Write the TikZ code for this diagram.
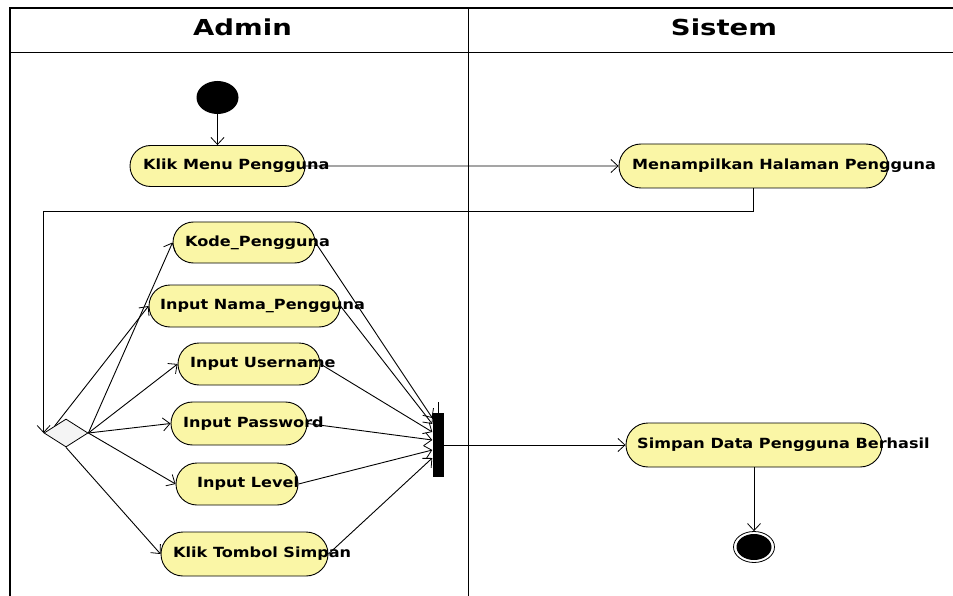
\documentclass[tikz,border=0pt]{standalone}
\usepackage{fontspec}
\setmainfont{DejaVu Sans}
\newfontfamily\hdrfont{DejaVu Sans}[FakeStretch=1.25]
\newfontfamily\actfont{DejaVu Sans}[FakeStretch=1.15]
\usetikzlibrary{shapes.misc,shapes.geometric,arrows.meta}
\definecolor{actfill}{RGB}{250,246,166}
\definecolor{decfill}{RGB}{244,244,244}
\tikzset{
 act/.style={rounded rectangle, draw=black, line width=0.9pt, fill=actfill, inner sep=0pt},
 acttext/.style={anchor=west, inner sep=0pt, font=\actfont\bfseries\fontsize{14}{16}\selectfont},
 flow/.style={draw=black, line width=0.9pt, -{Straight Barb[length=7pt,width=13pt,line width=0.8pt]}},
 lane/.style={draw=black, line width=1.3pt},
 hdr/.style={font=\hdrfont\bfseries\fontsize{22}{26}\selectfont, inner sep=0pt},
}
\begin{document}
\begin{tikzpicture}[x=1pt,y=-1pt]
\useasboundingbox (0,0) rectangle (953,596);
\clip (0,0) rectangle (953,596);
% swimlane frame
\draw[lane] (10,700) -- (10,8) -- (1000,8);
\draw[lane] (10,52.5) -- (1000,52.5);
\draw[lane] (468.5,8) -- (468.5,700);
\node[hdr] (hadmin) at (242.5,27) {Admin};
\node[hdr] (hsistem) at (724,27) {Sistem};
% start
\node[ellipse, fill=black, minimum width=42pt, minimum height=33pt, inner sep=0pt] (start) at (217.5,97.5) {};
% activities
\node[act, minimum width=175pt, minimum height=41pt] (klik) at (217.5,166) {};
\node[acttext] (klikt) at (143,166) {Klik Menu Pengguna};
\node[act, minimum width=269pt, minimum height=44pt] (men) at (753.5,166) {};
\node[acttext] (ment) at (632,166) {Menampilkan Halaman Pengguna};
\node[act, minimum width=142pt, minimum height=41pt] (kode) at (244,242.5) {};
\node[acttext] (kodet) at (185,243) {Kode\_Pengguna};
\node[act, minimum width=191pt, minimum height=42pt] (nama) at (244.5,306) {};
\node[acttext] (namat) at (160,306) {Input Nama\_Pengguna};
\node[act, minimum width=142pt, minimum height=42pt] (user) at (249,364) {};
\node[acttext] (usert) at (190,364) {Input Username};
\node[act, minimum width=136pt, minimum height=43pt] (pass) at (239,423.5) {};
\node[acttext] (passt) at (183,424) {Input Password};
\node[act, minimum width=122pt, minimum height=42pt] (level) at (237,484) {};
\node[acttext] (levelt) at (197,484) {Input Level};
\node[act, minimum width=167pt, minimum height=44pt] (tombol) at (244.5,554) {};
\node[acttext] (tombolt) at (173,554) {Klik Tombol Simpan};
\node[act, minimum width=256pt, minimum height=44pt] (simpan) at (754,445) {};
\node[acttext] (simpant) at (637,445) {Simpan Data Pengguna Berhasil};
% decision and join
\node[diamond, draw=black, line width=0.8pt, fill=decfill, minimum width=44pt, minimum height=28pt, inner sep=0pt] (dia) at (66,433) {};
\node[rectangle, fill=black, minimum width=11pt, minimum height=64pt, inner sep=0pt] (bar) at (438,445) {};
% final
\node[ellipse, draw=black, line width=0.8pt, minimum width=41pt, minimum height=31pt, inner sep=0pt] (final) at (754,547) {};
\fill[black] (final.center) ellipse [x radius=17.5pt, y radius=13pt];
% connectors
\draw[flow] (start) -- (klik);
\draw[flow] (klik) -- (men);
\draw[flow] (men.south) -- ++(0,23) -| (dia.west);
\draw[flow] (dia.east) -- (kode.west);
\draw[flow] (dia.north west) -- (nama.west);
\draw[flow] (dia.east) -- (user.west);
\draw[flow] (dia.east) -- (pass.west);
\draw[flow] (dia.east) -- (level.west);
\draw[flow] (dia.south) -- (tombol.west);
\draw[flow] (kode.east) -- ([yshift=27pt]bar.west);
\draw[flow] (nama.east) -- ([yshift=21pt]bar.west);
\draw[flow] (user.east) -- ([yshift=13pt]bar.west);
\draw[flow] (pass.east) -- ([yshift=5pt]bar.west);
\draw[flow] (level.east) -- ([yshift=-5pt]bar.west);
\draw[flow] (tombol.east) -- ([yshift=-13pt]bar.west);
\draw[line width=0.8pt] (bar.north) -- ++(0,-11);
\draw[flow] (bar) -- (simpan);
\draw[flow] (simpan) -- (final);
\end{tikzpicture}
\end{document}
